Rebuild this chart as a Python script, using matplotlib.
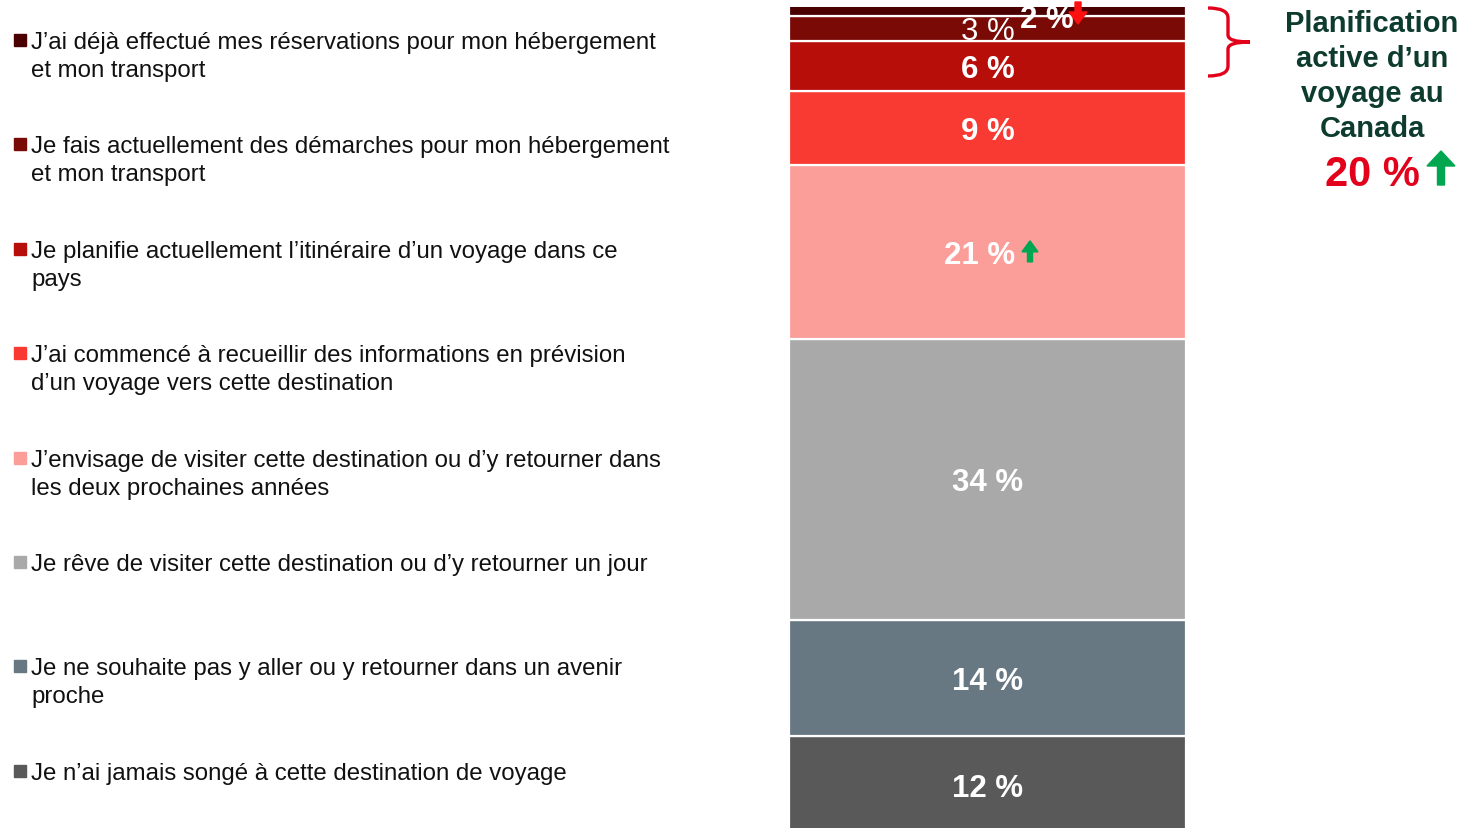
import matplotlib
matplotlib.use("Agg")
import matplotlib.pyplot as plt
from matplotlib.patches import Rectangle, PathPatch, FancyArrow
from matplotlib.path import Path

plt.rcParams['font.family'] = ['Liberation Sans', 'DejaVu Sans']

# legend order (top to bottom of the stack)
categories = [
    "J’ai déjà effectué mes réservations pour mon hébergement\net mon transport",
    "Je fais actuellement des démarches pour mon hébergement\net mon transport",
    "Je planifie actuellement l’itinéraire d’un voyage dans ce\npays",
    "J’ai commencé à recueillir des informations en prévision\nd’un voyage vers cette destination",
    "J’envisage de visiter cette destination ou d’y retourner dans\nles deux prochaines années",
    "Je rêve de visiter cette destination ou d’y retourner un jour",
    "Je ne souhaite pas y aller ou y retourner dans un avenir\nproche",
    "Je n’ai jamais songé à cette destination de voyage",
]
values = [2, 3, 6, 9, 21, 34, 14, 12]
colors = ["#4a0000", "#7a0a06", "#b70e0a", "#f93a33",
          "#fb9d99", "#a9a9a9", "#687883", "#595959"]

side_title = "Planification\nactive d’un\nvoyage au\nCanada"
side_value = "20 %"

W, H = 1463, 829
fig = plt.figure(figsize=(W / 100, H / 100), dpi=100)

# the stacked bar (bottom slightly below the figure edge, top clipped)
ax = fig.add_axes([789 / W, -7 / H, 397 / W, 828 / H])
bottom = 0
stack = list(zip(values, colors))[::-1]
centers = {}
for i, (v, c) in enumerate(stack):
    ax.bar(0, v, bottom=bottom, width=1.0, color=c, edgecolor="white", linewidth=1.6)
    centers[len(values) - 1 - i] = bottom + v / 2
    bottom += v
ax.set_xlim(-0.5, 0.5)
ax.set_ylim(0, 100.1)
ax.axis("off")

for i, v in enumerate(values):
    x, y = 0, centers[i] - 0.35
    weight = "bold"
    if i == 0:
        x, y = 0.15, 98.6
    elif i == 1:
        weight = "normal"
    elif i == 4:
        x = -0.02
    ax.text(x, y, f"{v} %", ha="center", va="center", color="white",
            fontsize=22.5, fontweight=weight, clip_on=False)

# overlay in pixel coordinates for legend / annotations, drawn on top
ov = fig.add_axes([0, 0, 1, 1])
ov.set_zorder(5)
ov.set_xlim(0, W)
ov.set_ylim(H, 0)
ov.axis("off")


def to_px(x, y):
    dx, dy = ax.transData.transform((x, y))
    return dx, H - dy


# small trend arrows (placed next to the value labels)
gx, gy = to_px(0.107, centers[4])
ov.add_patch(FancyArrow(gx, gy + 10, 0, -21, width=5, head_width=16, head_length=11,
                        length_includes_head=True, color="#00a650"))
rx, _ = to_px(0.228, 99)
ov.add_patch(FancyArrow(rx, 3, 0, 22, width=6, head_width=18, head_length=12,
                        length_includes_head=True, color="#ff1010"))

# legend
top_y, step = 43, 104.4
for i, (lab, c) in enumerate(zip(categories, colors)):
    y = top_y + i * step
    ov.add_patch(Rectangle((14, y - 8), 12, 12, color=c))
    for j, line in enumerate(lab.split("\n")):
        ov.text(31, y + j * 28, line, ha="left", va="center",
                fontsize=17.3, color="#111111")

# brace
bx0, bx1, btip = 1208, 1228, 1250
yt, ym, yb = 9, 43, 77
verts = [(bx0, yt), (bx1, yt), (bx1, yt + 10), (bx1, ym - 7), (bx1, ym), (btip, ym),
         (bx1, ym), (bx1, ym + 7), (bx1, yb - 10), (bx1, yb), (bx0, yb)]
codes = [Path.MOVETO, Path.CURVE3, Path.CURVE3, Path.LINETO, Path.CURVE3, Path.CURVE3,
         Path.CURVE3, Path.CURVE3, Path.LINETO, Path.CURVE3, Path.CURVE3]
ov.add_patch(PathPatch(Path(verts, codes), fill=False, edgecolor="#e3001b", lw=2.4))

# side annotation
for j, line in enumerate(side_title.split("\n")):
    ov.text(1372, 24 + j * 35, line, ha="center", va="center",
            fontsize=21, fontweight="bold", color="#0d3b2e")
ov.text(1372, 175, side_value, ha="center", va="center",
        fontsize=30, fontweight="bold", color="#e3001b")
ov.add_patch(FancyArrow(1441, 186, 0, -34, width=7, head_width=28, head_length=15,
                        length_includes_head=True, color="#00a650"))

fig.savefig("out.png", dpi=100)
